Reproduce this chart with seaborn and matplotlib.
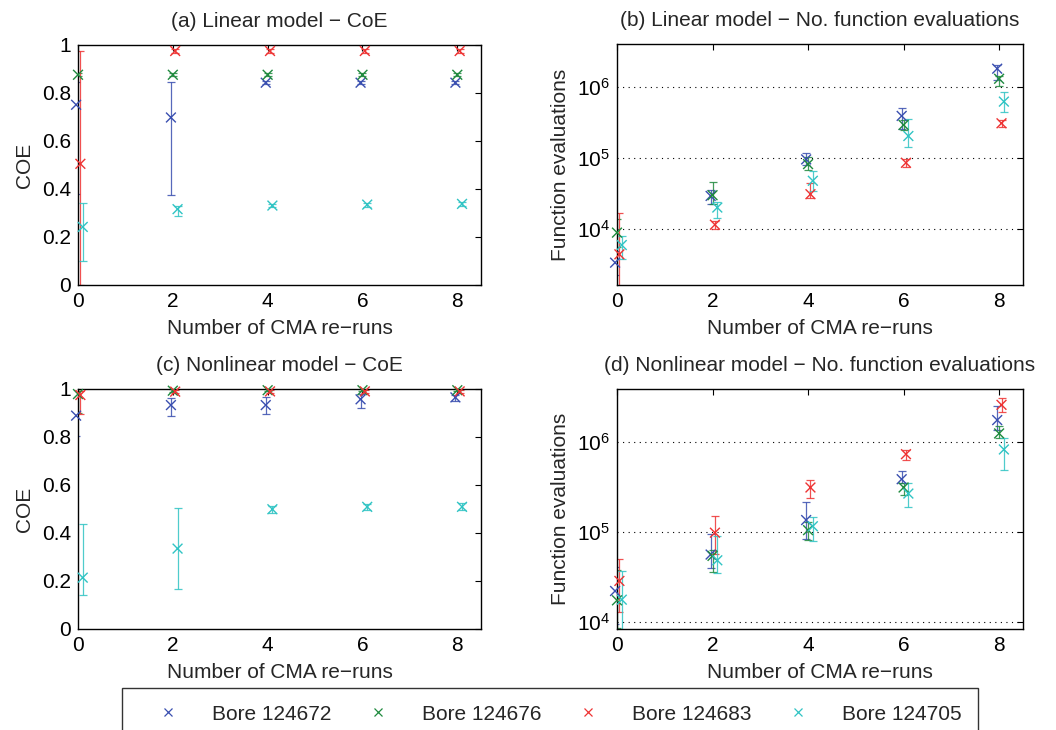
import numpy as np
import pandas as pd
import seaborn as sns
import matplotlib
matplotlib.use("Agg")
import matplotlib.pyplot as plt
from matplotlib.lines import Line2D
from matplotlib.ticker import NullLocator

# ---------------- data ----------------
bores = ["Bore 124672", "Bore 124676", "Bore 124683", "Bore 124705"]
reruns = [0, 2, 4, 6, 8]

# (a) Linear model - CoE
a_blue_mean = [0.751, 0.698, 0.843, 0.843, 0.843]
a_blue_lo = [0.380, 0.377, 0.836, 0.836, 0.836]
a_blue_hi = [0.846, 0.844, 0.850, 0.850, 0.850]
a_green_mean = [0.876, 0.876, 0.876, 0.876, 0.876]
a_green_lo = [0.869, 0.869, 0.869, 0.869, 0.869]
a_green_hi = [0.883, 0.883, 0.883, 0.883, 0.883]
a_red_mean = [0.505, 0.975, 0.975, 0.975, 0.975]
a_red_lo = [0.000, 0.968, 0.968, 0.968, 0.968]
a_red_hi = [0.975, 0.982, 0.982, 0.982, 0.982]
a_cyan_mean = [0.242, 0.316, 0.331, 0.335, 0.338]
a_cyan_lo = [0.100, 0.288, 0.323, 0.327, 0.330]
a_cyan_hi = [0.341, 0.330, 0.339, 0.343, 0.346]

# (b) Linear model - No. function evaluations
b_blue_mean = [3400, 29400, 95800, 391000, 1.80e6]
b_blue_lo = [2300, 23000, 79600, 253000, 1.23e6]
b_blue_hi = [5000, 35400, 116000, 512000, 2.06e6]
b_green_mean = [8980, 30100, 82300, 292000, 1.30e6]
b_green_lo = [5600, 23000, 69000, 248000, 1.03e6]
b_green_hi = [13800, 46400, 105000, 343000, 1.44e6]
b_red_mean = [4450, 11600, 31100, 85900, 308000]
b_red_lo = [1000, 10200, 27600, 75500, 276000]
b_red_hi = [17000, 13100, 45000, 95800, 343000]
b_cyan_mean = [6010, 20200, 48000, 204000, 621000]
b_cyan_lo = [3860, 14600, 34300, 141000, 445000]
b_cyan_hi = [8050, 24300, 65600, 354000, 851000]

# (c) Nonlinear model - CoE
c_blue_mean = [0.889, 0.933, 0.933, 0.957, 0.965]
c_blue_lo = [0.805, 0.889, 0.897, 0.921, 0.951]
c_blue_hi = [0.970, 0.964, 0.968, 0.979, 0.975]
c_green_mean = [0.979, 0.993, 0.995, 0.995, 0.995]
c_green_lo = [0.900, 0.988, 0.990, 0.990, 0.990]
c_green_hi = [0.990, 0.998, 1.000, 1.000, 1.000]
c_red_mean = [0.975, 0.989, 0.990, 0.990, 0.990]
c_red_lo = [0.897, 0.984, 0.985, 0.985, 0.985]
c_red_hi = [0.993, 0.994, 0.995, 0.995, 0.995]
c_cyan_mean = [0.214, 0.335, 0.499, 0.509, 0.509]
c_cyan_lo = [0.143, 0.166, 0.484, 0.495, 0.495]
c_cyan_hi = [0.437, 0.505, 0.512, 0.520, 0.523]

# (d) Nonlinear model - No. function evaluations
d_blue_mean = [22100, 56200, 136000, 387000, 1.76e6]
d_blue_lo = [9600, 39900, 82700, 347000, 1.36e6]
d_blue_hi = [41000, 94600, 217000, 480000, 2.52e6]
d_green_mean = [17400, 54300, 105000, 313000, 1.25e6]
d_green_lo = [8500, 36100, 81100, 257000, 1.10e6]
d_green_hi = [37600, 63000, 130000, 352000, 1.50e6]
d_red_mean = [28600, 98400, 313000, 735000, 2.60e6]
d_red_lo = [12800, 57700, 240000, 641000, 2.14e6]
d_red_hi = [50700, 150000, 377000, 828000, 3.12e6]
d_cyan_mean = [17700, 48500, 116000, 268000, 829000]
d_cyan_lo = [7000, 35400, 79000, 191000, 488000]
d_cyan_hi = [36600, 89900, 148000, 352000, 1.10e6]

titles = ["(a) Linear model \u2212 CoE",
          "(b) Linear model \u2212 No. function evaluations",
          "(c) Nonlinear model \u2212 CoE",
          "(d) Nonlinear model \u2212 No. function evaluations"]
xlabel = "Number of CMA re\u2212runs"
ylabels = ["COE", "Function evaluations", "COE", "Function evaluations"]
coe_ticks = [0, 0.2, 0.4, 0.6, 0.8, 1.0]
coe_ticklabels = ["0", "0.2", "0.4", "0.6", "0.8", "1"]

# ---------------- style ----------------
colors = ["#3a4fb0", "#1f8a3e", "#ee3333", "#30c4c4"]
x_offsets = [-0.04, 0.0, 0.05, 0.10]
FS = 15

sns.set_style("white")
plt.rcParams["font.family"] = ["Liberation Sans", "DejaVu Sans"]
plt.rcParams["mathtext.default"] = "regular"
plt.rcParams["font.size"] = FS

fig = plt.figure(figsize=(10.56, 7.30), dpi=100)
W, H = 1056, 730

def axes_px(left, right, top, bottom):
    return fig.add_axes([left / W, 1 - bottom / H, (right - left) / W, (bottom - top) / H])

ax_a = axes_px(78, 481, 45, 285)
ax_b = axes_px(617, 1023, 44, 285)
ax_c = axes_px(78, 481, 389, 629)
ax_d = axes_px(617, 1023, 389, 629)

panels = [
    (ax_a, [(a_blue_mean, a_blue_lo, a_blue_hi), (a_green_mean, a_green_lo, a_green_hi),
            (a_red_mean, a_red_lo, a_red_hi), (a_cyan_mean, a_cyan_lo, a_cyan_hi)], False),
    (ax_b, [(b_blue_mean, b_blue_lo, b_blue_hi), (b_green_mean, b_green_lo, b_green_hi),
            (b_red_mean, b_red_lo, b_red_hi), (b_cyan_mean, b_cyan_lo, b_cyan_hi)], True),
    (ax_c, [(c_blue_mean, c_blue_lo, c_blue_hi), (c_green_mean, c_green_lo, c_green_hi),
            (c_red_mean, c_red_lo, c_red_hi), (c_cyan_mean, c_cyan_lo, c_cyan_hi)], False),
    (ax_d, [(d_blue_mean, d_blue_lo, d_blue_hi), (d_green_mean, d_green_lo, d_green_hi),
            (d_red_mean, d_red_lo, d_red_hi), (d_cyan_mean, d_cyan_lo, d_cyan_hi)], True),
]
ylims = [(0, 1), (1650, 4.0e6), (0, 1), (8350, 3.9e6)]

for i, (ax, series, logy) in enumerate(panels):
    rows = []
    for b, (mean, lo, hi), off in zip(bores, series, x_offsets):
        for r, m, l, h in zip(reruns, mean, lo, hi):
            rows.append(dict(bore=b, pos=r + off, value=m, lo=l, hi=h))
    df = pd.DataFrame(rows)
    if logy:
        ax.set_yscale("log")
    for b, c in zip(bores, colors):
        sub = df[df.bore == b]
        yerr = np.vstack([sub.value - sub.lo, sub.hi - sub.value])
        ax.errorbar(sub.pos, sub.value, yerr=yerr, fmt="none", ecolor=c,
                    elinewidth=0.9, capsize=3.0, capthick=0.9, alpha=0.85, zorder=2)
    sns.scatterplot(data=df, x="pos", y="value", hue="bore", palette=colors,
                    hue_order=bores, marker="x", s=50, linewidth=1.0,
                    legend=False, ax=ax, zorder=3, clip_on=False)
    ax.set_xlim(0, 8.5)
    ax.set_ylim(*ylims[i])
    ax.set_xticks(reruns)
    ax.set_xticklabels([str(r) for r in reruns])
    if logy:
        ax.yaxis.set_minor_locator(NullLocator())
        ax.yaxis.grid(True, which="major", linestyle=(0, (1, 4)), color="black", linewidth=0.8)
        ax.set_axisbelow(True)
    else:
        ax.set_yticks(coe_ticks)
        ax.set_yticklabels(coe_ticklabels)
    ax.tick_params(direction="in", top=True, right=True, length=4, width=0.8,
                   labelsize=FS, pad=5, colors="black")
    for sp in ax.spines.values():
        sp.set_color("black")
        sp.set_linewidth(1.0)
    ax.set_title(titles[i], fontsize=FS, pad=13)
    ax.set_xlabel(xlabel, fontsize=FS, labelpad=6)
    ax.set_ylabel(ylabels[i], fontsize=FS, labelpad=6 if not logy else 5)

handles = [Line2D([], [], linestyle="none", marker="x", color=c, markersize=6, markeredgewidth=0.9)
           for c in colors]
leg = fig.legend(handles, bores, loc="upper left", ncol=4, mode="expand",
                 bbox_to_anchor=(122 / W, 1 - 688 / H, (978 - 122) / W, 0),
                 borderaxespad=0.0, frameon=True, fancybox=False, fontsize=FS,
                 handlelength=2.8, handletextpad=0.7, borderpad=0.8, columnspacing=1.0)
leg.get_frame().set_edgecolor("black")
leg.get_frame().set_linewidth(1.0)

fig.savefig("out.png", dpi=100)
